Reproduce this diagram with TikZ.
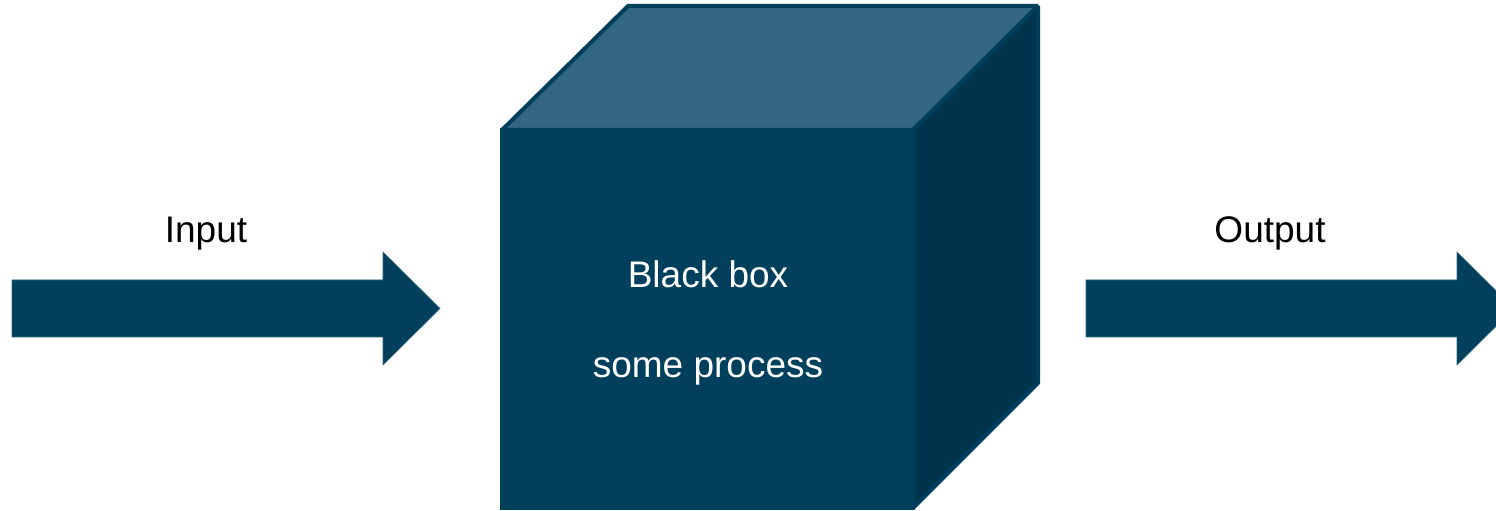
\documentclass[tikz,border=0pt]{standalone}
\usepackage{fontspec}
\setmainfont{Liberation Sans}
\begin{document}
\begin{tikzpicture}[x=1pt,y=1pt,
  lbl/.style={anchor=base,inner sep=0pt,font=\fontsize{37}{44}\selectfont},
  face/.style={draw=cubeedge,line width=4pt,line join=bevel},
  bigarrow/.style={fill=arrowfill,draw=arrowfill!80!white,line width=0.6pt}]
\definecolor{cubefront}{HTML}{00405D}
\definecolor{cubetop}{HTML}{336680}
\definecolor{cuberight}{HTML}{00344D}
\definecolor{cubeedge}{HTML}{003F5C}
\definecolor{arrowfill}{HTML}{00405D}
\useasboundingbox (0,0) rectangle (1496,511);
\clip (0,0) rectangle (1496,511);
% input arrow
\draw[bigarrow] (12,231) -- (383,231) -- (383,259) -- (440,202.5) -- (383,146) -- (383,174) -- (12,174) -- cycle;
% output arrow
\draw[bigarrow] (1086,231) -- (1457,231) -- (1457,259) -- (1514,202.5) -- (1457,146) -- (1457,174) -- (1086,174) -- cycle;
% cube
\draw[face,fill=cubetop] (502,381) -- (628,505) -- (1038,505) -- (913,381) -- cycle;
\draw[face,fill=cuberight] (913,381) -- (1038,505) -- (1038,128) -- (913,3) -- cycle;
\draw[face,fill=cubefront,line join=miter] (502,3) rectangle (913,381);
% labels
\node[lbl] (input) at (206,268) {Input};
\node[lbl] (output) at (1270,268) {Output};
\node[lbl,text=white] (bb) at (708,223) {Black box};
\node[lbl,text=white] (proc) at (708,133) {some process};
\end{tikzpicture}
\end{document}
